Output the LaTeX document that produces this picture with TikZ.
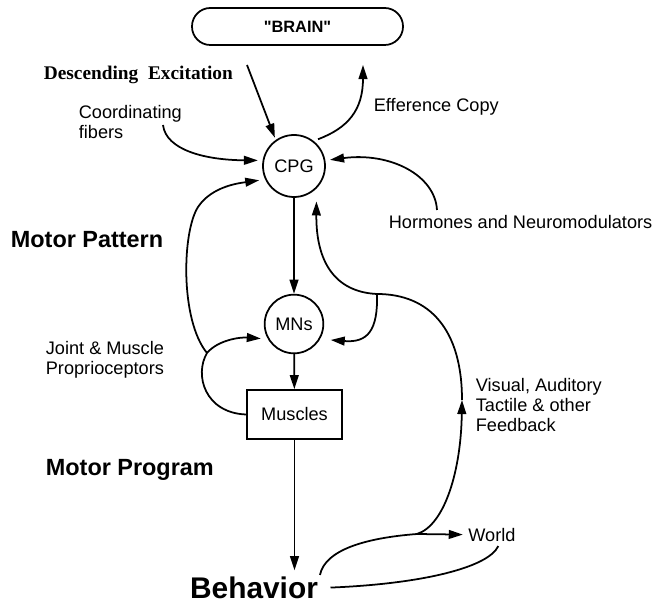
\documentclass[tikz,border=0pt]{standalone}
\usepackage{fontspec}
\setmainfont{Liberation Sans}
\newfontfamily\timesfont{Liberation Serif}
\usetikzlibrary{arrows.meta}

\begin{document}
\begin{tikzpicture}[x=0.3mm, y=-0.3mm, line width=1.5pt,
    >={Triangle[length=12pt,width=7.5pt]},
    txt/.style={font=\fontsize{15.5}{17}\selectfont, inner sep=0pt, align=left, anchor=west},
    big/.style={font=\bfseries\fontsize{20}{22}\selectfont, inner sep=0pt, anchor=west},
    cell/.style={draw, circle, inner sep=0pt, font=\fontsize{15.5}{17}\selectfont}]
    \useasboundingbox (0,0) rectangle (659,605);

    \node [draw, rounded corners=5.5mm, minimum width=63.3mm, minimum height=11.1mm,
        font=\bfseries\fontsize{14}{16}\selectfont] (brain) at (297.5,26.5) {\textquotedbl BRAIN\textquotedbl};
    \node [cell, minimum size=18.6mm] (cpg) at (294,166) {CPG};
    \node [cell, minimum size=17.6mm] (mns) at (294,324) {MNs};
    \node [draw, minimum width=28.5mm, minimum height=14.7mm,
        font=\fontsize{15.5}{17}\selectfont] (muscles) at (294.5,414.5) {Muscles};
    \node [font=\bfseries\fontsize{25.5}{28}\selectfont, inner sep=1pt] (behavior) at (254,588) {Behavior};
    \node [txt, inner sep=3pt] (world) at (464,535) {World};

    \node [txt, font=\timesfont\bfseries\fontsize{16.5}{18}\selectfont] (desc label) at (43,75) {Descending\hspace{0.5em}Excitation};
    \node [txt] (coord label) at (78,122) {Coordinating\\fibers};
    \node [txt] (eff label) at (373,107) {Efference Copy};
    \node [txt] (horm label) at (388,222) {Hormones and Neuromodulators};
    \node [big] (pattern label) at (10,240) {Motor Pattern};
    \node [txt] (prop label) at (45,360) {Joint \& Muscle\\Proprioceptors};
    \node [big] (program label) at (45,470) {Motor Program};
    \node [txt] (sense label) at (475,405) {Visual, Auditory\\Tactile \& other\\Feedback};

    \node [coordinate] (desc start) at (247,65) {};
    \node [coordinate] (eff end) at (363,65) {};
    \node [coordinate] (coord start) at (163,125) {};
    \node [coordinate] (horm start) at (437,210) {};
    \node [coordinate] (prop joint) at (207,353) {};
    \node [coordinate] (sense joint) at (377,294) {};
    \node [coordinate] (world joint) at (417,534) {};
    \node [coordinate] (feedback mid) at (462,400) {};

    % inputs to the CPG
    \path[->] (desc start) edge [shorten >=2pt] (cpg.125);
    \draw[->, shorten <=4pt] (cpg.52) .. controls (348,128) and (363,110) .. (eff end);
    \draw[->, shorten >=4pt] (coord start) .. controls (166,150) and (205,160) .. (cpg.170);
    \draw[->, shorten >=4pt] (horm start) .. controls (435,175) and (390,152) .. (cpg.10);

    % main chain
    \path[->] (cpg) edge (mns);
    \path[->] (mns) edge (muscles);
    \path[->] (muscles.south) edge [shorten >=4pt] (muscles.south |- behavior.north);

    % proprioceptive loop
    \draw (muscles.west) .. controls (205,413) and (194,375) .. (prop joint);
    \draw[->, shorten >=5pt] (prop joint) .. controls (180,320) and (182,232) .. (198,207)
        .. controls (212,186) and (240,183) .. (cpg.205);
    \draw[->, shorten >=6pt] (prop joint) .. controls (218,340) and (240,337) .. (mns.210);

    % sensory feedback
    \draw (behavior.north east) .. controls (325,550) and (365,538) .. (world joint);
    \path[->] (world joint) edge [shorten >=1pt] (world);
    \draw[->] (world joint) .. controls (445,525) and (461,470) .. (feedback mid);
    \draw (feedback mid) .. controls (462,330) and (430,294) .. (sense joint);
    \draw[->, shorten >=11pt] (sense joint) .. controls (335,292) and (316,262) .. (cpg.-45);
    \draw[->, shorten >=9pt] (sense joint) .. controls (378,330) and (368,343) .. (mns.330);
    \draw[shorten >=9pt] (world.-60) .. controls (488,568) and (420,584) .. (behavior.east);
\end{tikzpicture}
\end{document}
